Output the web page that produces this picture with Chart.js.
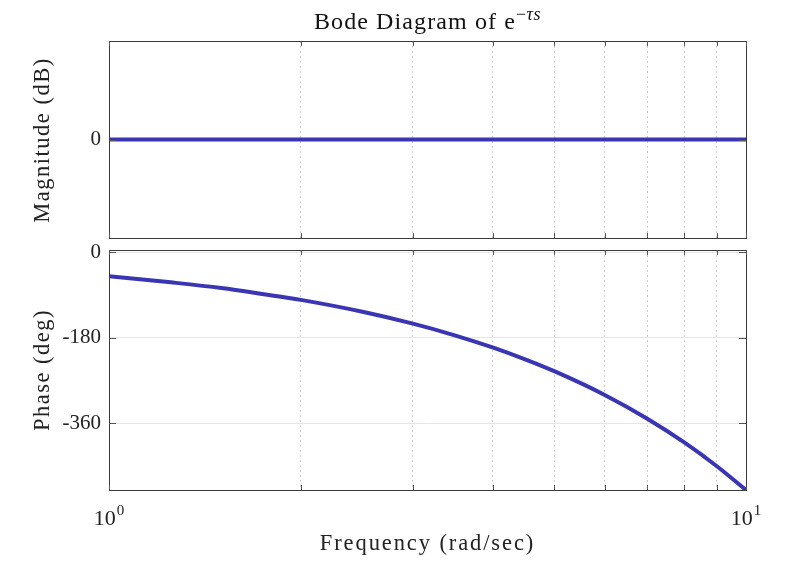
<!DOCTYPE html>
<html lang="en">
<head>
    <meta charset="UTF-8">
    <title>Bode Diagram</title>
    <script src="https://cdn.jsdelivr.net/npm/chart.js"></script>
    <style>
        body {
            margin: 0;
            background: #fff;
            font-family: "Liberation Serif", serif;
            color: #222;
        }

        .wrap {
            position: relative;
            width: 801px;
            height: 580px;
        }

        .title {
            position: absolute;
            left: 109px;
            width: 637px;
            top: -1px;
            line-height: 30px;
            text-align: center;
            font-size: 24px;
            letter-spacing: 1.1px;
            color: #111;
        }

        .title sup {
            font-size: 18px;
            letter-spacing: 0.5px;
        }

        .xtitle {
            position: absolute;
            left: 109px;
            width: 637px;
            top: 529px;
            line-height: 28px;
            text-align: center;
            font-size: 22.5px;
            letter-spacing: 1.9px;
        }

        .ytitle {
            position: absolute;
            width: 240px;
            line-height: 28px;
            text-align: center;
            font-size: 22.5px;
            letter-spacing: 1.5px;
            transform: rotate(-90deg);
        }

        #magCanvas {
            position: absolute;
            left: 0;
            top: 0;
        }

        #phaseCanvas {
            position: absolute;
            left: 0;
            top: 235px;
        }
    </style>
</head>
<body>
    <div class="wrap">
        <canvas id="magCanvas" width="801" height="245"></canvas>
        <canvas id="phaseCanvas" width="801" height="345"></canvas>
        <div class="title">Bode Diagram of e<sup>&minus;<i>τs</i></sup></div>
        <div class="ytitle" style="left: -78px; top: 126px;">Magnitude (dB)</div>
        <div class="ytitle" style="left: -78px; top: 356px;">Phase (deg)</div>
        <div class="xtitle">Frequency (rad/sec)</div>
    </div>

    <script>
        // values
        const freq = [1, 1.25, 1.5, 1.75, 2, 2.5, 3, 3.5, 4, 4.5, 5, 6, 7, 8, 9, 10];
        const magnitude = [0, 0, 0, 0, 0, 0, 0, 0, 0, 0, 0, 0, 0, 0, 0, 0];
        const phase = [-50, -63, -75, -88, -100, -125, -150, -175, -200, -225, -250, -300, -350, -400, -450, -500];
        const freqTicks = [1, 2, 3, 4, 5, 6, 7, 8, 9, 10];
        const freqLabels = { 1: ['10', '0'], 10: ['10', '1'] };
        const magTicks = [0];
        const phaseTicks = [-360, -180, 0];

        const lineColor = '#3a35b3';
        const font = "'Liberation Serif', serif";

        // box round the plot area + inward tick marks like MATLAB
        const framePlugin = {
            id: 'frame',
            afterDraw(chart) {
                const { ctx, chartArea: a, scales } = chart;
                ctx.save();
                ctx.strokeStyle = '#3a3a3a';
                ctx.lineWidth = 1;
                ctx.strokeRect(a.left + 0.5, a.top + 0.5, a.width, a.height);
                ctx.strokeStyle = '#555';
                ctx.beginPath();
                scales.x.ticks.forEach(t => {
                    const px = Math.round(scales.x.getPixelForValue(t.value)) + 0.5;
                    ctx.moveTo(px, a.top);
                    ctx.lineTo(px, a.top + 5);
                    ctx.moveTo(px, a.bottom);
                    ctx.lineTo(px, a.bottom - 5);
                });
                scales.y.ticks.forEach(t => {
                    const py = Math.round(scales.y.getPixelForValue(t.value)) + 0.5;
                    ctx.moveTo(a.left, py);
                    ctx.lineTo(a.left + 7, py);
                    ctx.moveTo(a.right, py);
                    ctx.lineTo(a.right - 7, py);
                });
                ctx.stroke();

                // 10^n labels under the bottom panel
                if (chart.options.plugins.frame && chart.options.plugins.frame.xLabels) {
                    ctx.fillStyle = '#222';
                    ctx.textBaseline = 'alphabetic';
                    ctx.textAlign = 'left';
                    scales.x.ticks.forEach(t => {
                        const lab = freqLabels[t.value];
                        if (!lab) return;
                        const px = scales.x.getPixelForValue(t.value);
                        ctx.font = "22px " + font;
                        const w1 = ctx.measureText(lab[0]).width;
                        ctx.font = "15px " + font;
                        const w2 = ctx.measureText(lab[1]).width;
                        const x0 = px - (w1 + w2 + 1) / 2;
                        ctx.font = "22px " + font;
                        ctx.fillText(lab[0], x0, a.bottom + 35);
                        ctx.font = "15px " + font;
                        ctx.fillText(lab[1], x0 + w1 + 1, a.bottom + 25);
                    });
                }
                ctx.restore();
            }
        };

        function xScale(h) {
            return {
                type: 'logarithmic',
                min: 1,
                max: 10,
                afterBuildTicks: s => { s.ticks = freqTicks.map(v => ({ value: v })); },
                afterFit: s => {
                    s.height = h;
                    s.paddingLeft = 0;
                    s.paddingRight = 0;
                },
                grid: {
                    drawTicks: false,
                    color: ctx => (ctx.tick && (ctx.tick.value === 1 || ctx.tick.value === 10)) ? 'rgba(0,0,0,0)' : '#cdcdcd',
                    lineWidth: 1
                },
                border: { display: false, dash: [2, 3] },
                ticks: { display: false }
            };
        }

        function yScale(min, max, tickVals) {
            return {
                min: min,
                max: max,
                afterBuildTicks: s => { s.ticks = tickVals.map(v => ({ value: v })); },
                afterFit: s => {
                    s.width = 109;
                    s.paddingTop = 0;
                    s.paddingBottom = 0;
                },
                grid: { drawTicks: false, color: '#e6e6e6', lineWidth: 1 },
                border: { display: false },
                ticks: {
                    padding: 8,
                    color: '#222',
                    font: { family: font, size: 21 },
                    callback: v => String(v)
                }
            };
        }

        function dataset(values) {
            return {
                data: freq.map((f, i) => ({ x: f, y: values[i] })),
                borderColor: lineColor,
                borderWidth: 4,
                pointRadius: 0,
                cubicInterpolationMode: 'monotone',
                fill: false
            };
        }

        Chart.defaults.animation = false;

        new Chart(document.getElementById('magCanvas'), {
            type: 'line',
            data: { datasets: [dataset(magnitude)] },
            options: {
                responsive: false,
                layout: { padding: { top: 41, right: 55, left: 0, bottom: 0 } },
                plugins: { legend: { display: false }, tooltip: { enabled: false } },
                scales: {
                    x: xScale(7),
                    y: yScale(-1, 1, magTicks)
                }
            },
            plugins: [framePlugin]
        });

        new Chart(document.getElementById('phaseCanvas'), {
            type: 'line',
            data: { datasets: [dataset(phase)] },
            options: {
                responsive: false,
                layout: { padding: { top: 15, right: 55, left: 0, bottom: 0 } },
                plugins: { legend: { display: false }, tooltip: { enabled: false }, frame: { xLabels: true } },
                scales: {
                    x: xScale(90),
                    y: yScale(-500, 5, phaseTicks)
                }
            },
            plugins: [framePlugin]
        });
    </script>
</body>
</html>
